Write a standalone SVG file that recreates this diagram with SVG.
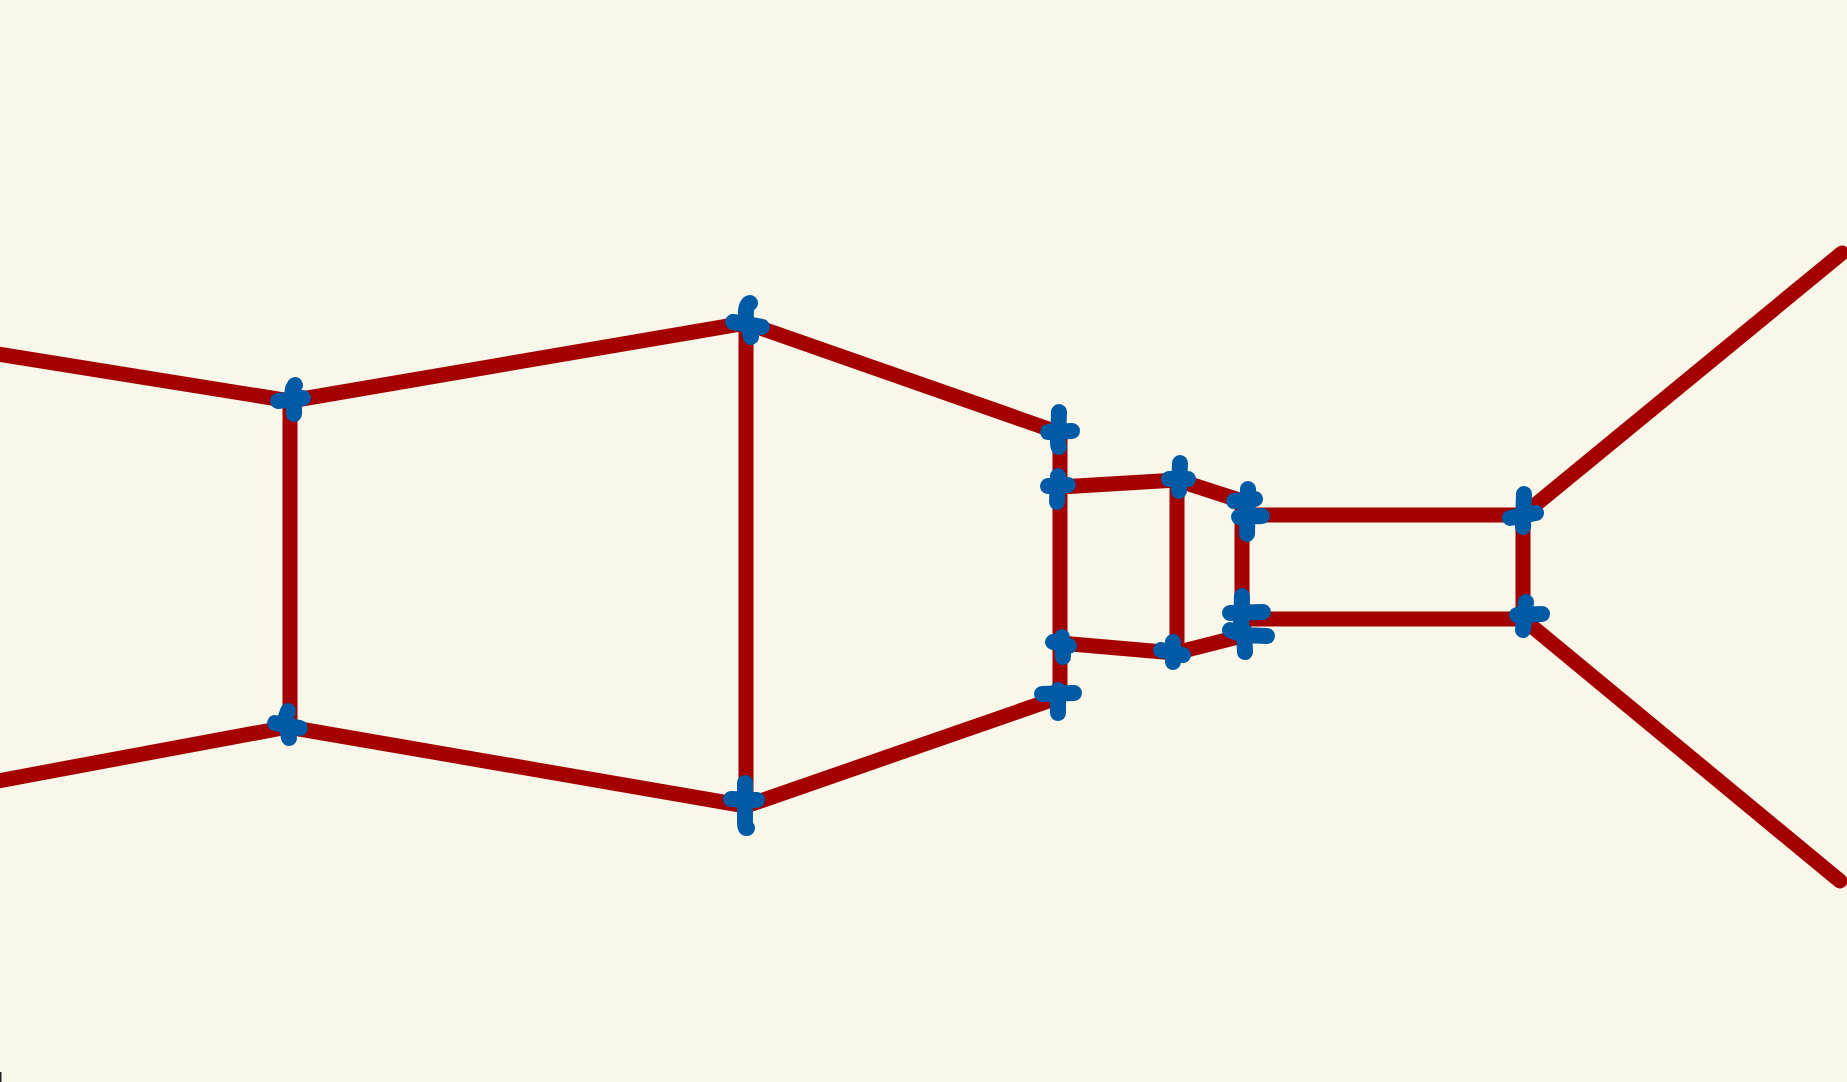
<svg xmlns="http://www.w3.org/2000/svg" width="1847" height="1082" viewBox="0 0 1847 1082">
<style>
.w{fill:none;stroke:#a50000;stroke-width:15;stroke-linecap:round;stroke-linejoin:round}
.c{fill:none;stroke:#005aa5;stroke-width:16;stroke-linecap:round;stroke-linejoin:round}
</style>
<rect width="1847" height="1082" fill="#f9f7e9"/>
<rect x="0" y="1072" width="1.5" height="10" fill="#222"/>
<g id="connectors">
<path class="w" d="M-8 353L290 401L746 323L1060 433"/>
<path class="w" d="M-8 782L288 727L746 806L1060 697"/>
<path class="w" d="M290 401V727M746 323V806M1060 433V697M1177 480V654M1242 501V636M1523 515V619"/>
<path class="w" d="M1060 487L1177 480L1242 501L1247 515H1523L1842 253"/>
<path class="w" d="M1060 643L1175 653L1242 636L1245 619H1523L1840 881"/>
</g>
<g id="n1"><path class="c" d="M295 385Q291 391 294 395L294 414M278 401L303 398"/></g>
<g id="n2"><path class="c" d="M288 711Q284 720 287 728L289 738M275 723L300 728"/></g>
<g id="n3"><path class="c" d="M750 303Q745 305 746 318L751 337M733 322L762 327"/></g>
<g id="n4"><path class="c" d="M745 783L745 822Q745 828 747 828M731 799L757 800"/></g>
<g id="n5"><path class="c" d="M1059 412L1058 440Q1058 447 1059 447M1048 432L1072 431"/></g>
<g id="n6"><path class="c" d="M1058 476L1057 502M1048 486L1068 485"/></g>
<g id="n7"><path class="c" d="M1180 463L1179 491M1169 479L1188 479"/></g>
<g id="n8"><path class="c" d="M1062 637L1063 657M1053 642L1069 646"/></g>
<g id="n9"><path class="c" d="M1173 642L1173 662M1161 650L1183 655"/></g>
<g id="n10"><path class="c" d="M1058 690L1058 713M1042 694L1074 693"/></g>
<g id="n11"><path class="c" d="M1248 489L1247 534M1234 501L1255 499M1239 517L1262 516"/></g>
<g id="n12"><path class="c" d="M1242 596L1241 625M1230 613L1263 612"/></g>
<g id="n13"><path class="c" d="M1244 631L1245 652M1230 630L1243 635L1267 636"/></g>
<g id="n14"><path class="c" d="M1524 494L1523 527M1510 518L1536 513"/></g>
<g id="n15"><path class="c" d="M1526 602L1523 630M1517 615L1542 614"/></g>
</svg>
